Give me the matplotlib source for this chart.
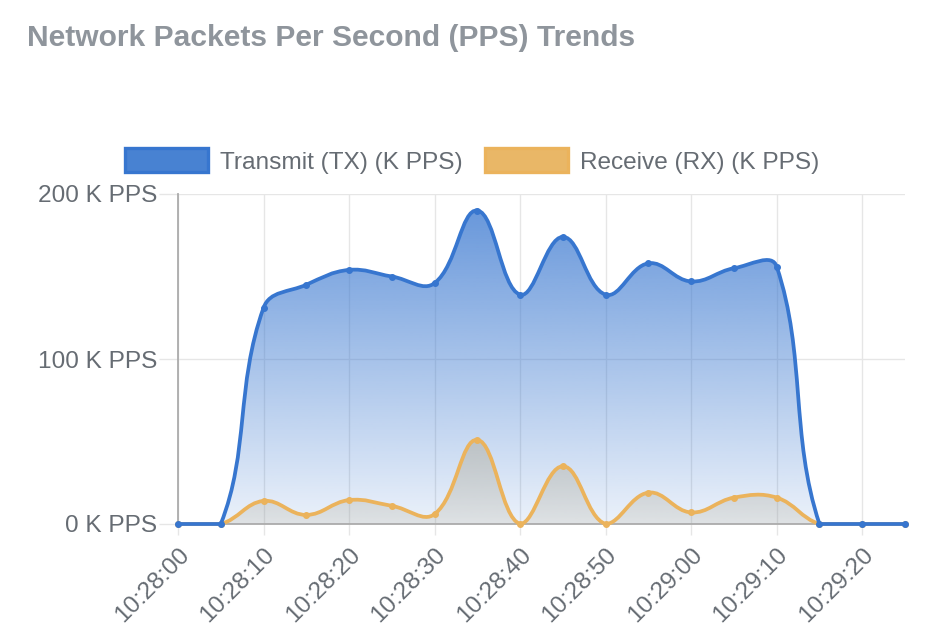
import numpy as np
import matplotlib
matplotlib.use("Agg")
import matplotlib.pyplot as plt
from matplotlib.path import Path
from matplotlib.patches import PathPatch, Patch

plt.rcParams['font.family'] = ['Liberation Sans', 'DejaVu Sans']

# data: one sample every 5 seconds
times = ['10:28:00', '10:28:05', '10:28:10', '10:28:15', '10:28:20', '10:28:25',
         '10:28:30', '10:28:35', '10:28:40', '10:28:45', '10:28:50', '10:28:55',
         '10:29:00', '10:29:05', '10:29:10', '10:29:15', '10:29:20', '10:29:25']
tx_kpps = [0, 0, 131, 145, 154, 150, 146, 190, 139, 174, 139, 158,
           147, 155, 156, 0, 0, 0]
rx_kpps = [0, 0, 14, 5.5, 14.5, 11, 6, 51, 0, 35, 0, 19,
           7, 16, 16, 0, 0, 0]
secs = [5 * i for i in range(len(times))]

TX_COLOR = '#3776cf'
RX_COLOR = '#ebb35c'
TICK_TEXT = '#666c73'
GRID = '#e6e6e6'
AXIS = '#ababab'
FS = 17.6

fig = plt.figure(figsize=(9.44, 6.32), dpi=100)
ax = fig.add_axes([178 / 944, 1 - 524 / 632, 727 / 944, 330 / 632])
ax.set_xlim(0, 85)
ax.set_ylim(0, 200)

# pixel scale, used so the spline behaves like chart.js (tension 0.4)
SX = 727 / 85.0
SY = 330 / 200.0


def spline_path(xs, ys, t=0.4):
    px = np.array(xs, float) * SX
    py = np.array(ys, float) * SY
    n = len(px)
    cprev = np.zeros((n, 2))
    cnext = np.zeros((n, 2))
    for i in range(n):
        a = max(i - 1, 0)
        b = min(i + 1, n - 1)
        d01 = np.hypot(px[i] - px[a], py[i] - py[a])
        d12 = np.hypot(px[b] - px[i], py[b] - py[i])
        tot = d01 + d12
        s01 = d01 / tot if tot else 0
        s12 = d12 / tot if tot else 0
        fa, fb = t * s01, t * s12
        cprev[i] = [px[i] - fa * (px[b] - px[a]), py[i] - fa * (py[b] - py[a])]
        cnext[i] = [px[i] + fb * (px[b] - px[a]), py[i] + fb * (py[b] - py[a])]
    # keep control points inside the chart area
    for c in (cprev, cnext):
        c[:, 0] = np.clip(c[:, 0], 0, 85 * SX)
        c[:, 1] = np.clip(c[:, 1], 0, 200 * SY)
    verts = [(px[0] / SX, py[0] / SY)]
    codes = [Path.MOVETO]
    for i in range(n - 1):
        verts += [(cnext[i][0] / SX, cnext[i][1] / SY),
                  (cprev[i + 1][0] / SX, cprev[i + 1][1] / SY),
                  (px[i + 1] / SX, py[i + 1] / SY)]
        codes += [Path.CURVE4] * 3
    return verts, codes


def gradient_fill(xs, ys, rgb, a_top, a_bot, ytop, z):
    verts, codes = spline_path(xs, ys)
    verts = verts + [(xs[-1], 0), (xs[0], 0), (xs[0], 0)]
    codes = codes + [Path.LINETO, Path.LINETO, Path.CLOSEPOLY]
    patch = PathPatch(Path(verts, codes), facecolor='none', edgecolor='none')
    ax.add_patch(patch)
    img = np.zeros((256, 1, 4))
    img[:, 0, :3] = np.array(rgb) / 255.0
    img[:, 0, 3] = np.linspace(a_top, a_bot, 256)
    im = ax.imshow(img, extent=[0, 85, 0, ytop], aspect='auto', origin='upper',
                   zorder=z, interpolation='bilinear')
    im.set_clip_path(patch)
    ax.set_xlim(0, 85)
    ax.set_ylim(0, 200)


gradient_fill(secs, tx_kpps, (58, 120, 208), 0.80, 0.10, 200, 1.5)
gradient_fill(secs, rx_kpps, (178, 172, 152), 0.55, 0.22, 60, 1.6)

# lines
for vals, col, z in ((rx_kpps, RX_COLOR, 4), (tx_kpps, TX_COLOR, 5)):
    v, c = spline_path(secs, vals)
    ax.add_patch(PathPatch(Path(v, c), facecolor='none', edgecolor=col,
                           lw=2.7, zorder=z, clip_on=False, capstyle='round'))
    ax.plot(secs, vals, 'o', color=col, ms=4, zorder=z, clip_on=False)

# axes styling
for s in ('top', 'right'):
    ax.spines[s].set_visible(False)
for s in ('left', 'bottom'):
    ax.spines[s].set_color(AXIS)
    ax.spines[s].set_linewidth(1.3)
    ax.spines[s].set_zorder(2.5)

ax.set_yticks([0, 100, 200])
ax.set_yticklabels([f'{v} K PPS' for v in [0, 100, 200]])
ax.set_xticks(secs[::2])
ax.set_xticklabels(times[::2], rotation=45, ha='right', va='top',
                   rotation_mode='anchor')
ax.tick_params(axis='y', length=14, width=1, color=GRID, pad=1,
               labelsize=FS, labelcolor=TICK_TEXT)
ax.tick_params(axis='x', length=8, width=1, color=GRID, pad=6,
               labelsize=FS, labelcolor=TICK_TEXT)
ax.yaxis.get_major_ticks()[0].tick1line.set_color(AXIS)
ax.xaxis.get_major_ticks()[0].tick1line.set_color(AXIS)
ax.grid(True, color=GRID, lw=1, zorder=0)
ax.set_axisbelow(True)

# legend
handles = [Patch(facecolor='#4882d2', edgecolor=TX_COLOR, lw=2.4,
                 label='Transmit (TX) (K PPS)'),
           Patch(facecolor='#e9b767', edgecolor=RX_COLOR, lw=2.4,
                 label='Receive (RX) (K PPS)')]
fig.legend(handles=handles, loc='center', bbox_to_anchor=(0.5, 1 - 161 / 632),
           ncol=2, frameon=False, fontsize=FS, labelcolor=TICK_TEXT,
           handlelength=3.4, handleheight=1.1, handletextpad=0.5,
           columnspacing=0.9)

fig.text(27 / 944, 1 - 38 / 632, 'Network Packets Per Second (PPS) Trends',
         fontsize=21.6, fontweight='bold', color='#8f959c', va='center', ha='left')

fig.savefig('out.png', dpi=100)
